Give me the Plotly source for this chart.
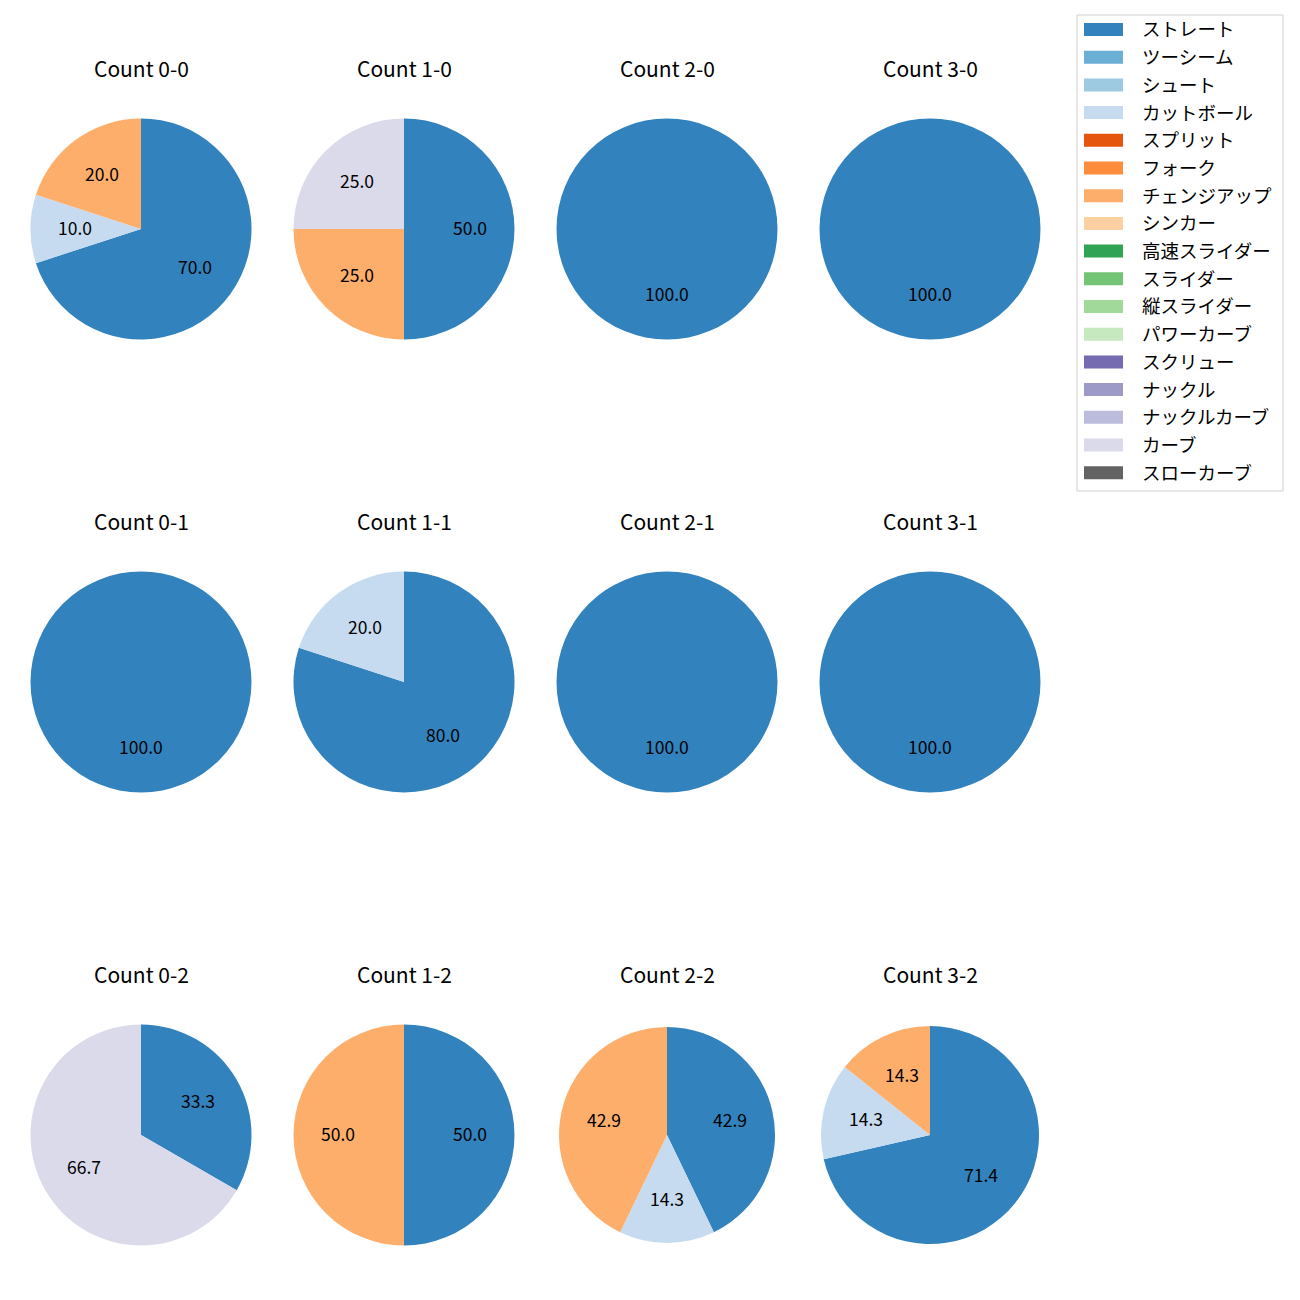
import plotly.graph_objects as go
import math

pitch_types = ["ストレート", "ツーシーム", "シュート", "カットボール", "スプリット", "フォーク",
               "チェンジアップ", "シンカー", "高速スライダー", "スライダー", "縦スライダー",
               "パワーカーブ", "スクリュー", "ナックル", "ナックルカーブ", "カーブ", "スローカーブ"]
colors = ["#3182bd", "#6baed6", "#9ecae1", "#c6dbef", "#e6550d", "#fd8d3c", "#fdae6b", "#fdd0a2",
          "#31a354", "#74c476", "#a1d99b", "#c7e9c0", "#756bb1", "#9e9ac8", "#bcbddc", "#dadaeb",
          "#636363"]
color_map = dict(zip(pitch_types, colors))

counts = ["0-0", "1-0", "2-0", "3-0", "0-1", "1-1", "2-1", "3-1", "0-2", "1-2", "2-2", "3-2"]
pie_labels = {
    "0-0": ["ストレート", "カットボール", "チェンジアップ"],
    "1-0": ["ストレート", "チェンジアップ", "カーブ"],
    "2-0": ["ストレート"],
    "3-0": ["ストレート"],
    "0-1": ["ストレート"],
    "1-1": ["ストレート", "カットボール"],
    "2-1": ["ストレート"],
    "3-1": ["ストレート"],
    "0-2": ["ストレート", "カーブ"],
    "1-2": ["ストレート", "チェンジアップ"],
    "2-2": ["ストレート", "カットボール", "チェンジアップ"],
    "3-2": ["ストレート", "カットボール", "チェンジアップ"],
}
pie_values = {
    "0-0": [7, 1, 2],
    "1-0": [2, 1, 1],
    "2-0": [1],
    "3-0": [1],
    "0-1": [1],
    "1-1": [4, 1],
    "2-1": [1],
    "3-1": [1],
    "0-2": [1, 2],
    "1-2": [1, 1],
    "2-2": [3, 1, 3],
    "3-2": [5, 1, 1],
}

W = H = 1300
OFF = 8  # page body margin
col_cx = [141, 404, 667, 930]
row_cy = [229, 682, 1135]
radius = 110.5
pie_radius = {"2-2": 108.0, "3-2": 109.0}
font = "Noto Sans CJK JP, sans-serif"


def px(x):
    return (x - OFF) / W


def py(y):
    return 1 - (y - OFF) / H


fig = go.Figure()
annotations = []
shapes = []

for i, c in enumerate(counts):
    r_i, c_i = divmod(i, 4)
    cx, cy = col_cx[c_i], row_cy[r_i]
    r = pie_radius.get(c, radius)
    labels = pie_labels[c]
    vals = pie_values[c]
    fig.add_trace(go.Pie(
        labels=labels, values=vals, sort=False, direction="clockwise", rotation=0,
        marker=dict(colors=[color_map[l] for l in labels], line=dict(width=0)),
        textinfo="none", hoverinfo="label+percent", showlegend=False,
        domain=dict(x=[px(cx - r), px(cx + r)], y=[py(cy + r), py(cy - r)]),
    ))
    total = sum(vals)
    start = 90.0
    for v in vals:
        sweep = 360.0 * v / total
        mid = math.radians(start - sweep / 2)
        tx = cx + 0.6 * r * math.cos(mid)
        ty = cy - 0.6 * r * math.sin(mid)
        annotations.append(dict(x=px(tx), y=py(ty), xref="paper", yref="paper",
                                text=f"{100.0 * v / total:.1f}", showarrow=False, yshift=1.5,
                                font=dict(size=17.5, color="black", family=font),
                                xanchor="center", yanchor="middle"))
        start -= sweep
    annotations.append(dict(x=px(cx), y=py(row_cy[r_i] - 160), xref="paper", yref="paper",
                            text=f"Count {c}", showarrow=False, yshift=1.5,
                            font=dict(size=21, color="black", family=font),
                            xanchor="center", yanchor="middle"))

# legend
lx0, ly0, lx1, ly1 = 1077, 15, 1283, 491
shapes.append(dict(type="rect", xref="paper", yref="paper",
                   x0=px(lx0), x1=px(lx1), y0=py(ly1), y1=py(ly0),
                   line=dict(color="#d0d0d0", width=1), fillcolor="white"))
step = 27.7
for k, (name, col) in enumerate(zip(pitch_types, colors)):
    y = 29.5 + k * step
    shapes.append(dict(type="rect", xref="paper", yref="paper",
                       x0=px(1084), x1=px(1123), y0=py(y + 6.5), y1=py(y - 6.5),
                       line=dict(width=0), fillcolor=col))
    annotations.append(dict(x=px(1140), y=py(y), xref="paper", yref="paper",
                            text=name, showarrow=False, yshift=1,
                            font=dict(size=18.5, color="black", family=font),
                            xanchor="left", yanchor="middle"))

fig.update_layout(width=W, height=H, margin=dict(l=0, r=0, t=0, b=0),
                  paper_bgcolor="white", plot_bgcolor="white",
                  annotations=annotations, shapes=shapes, showlegend=False)
fig.write_html("out.html")
